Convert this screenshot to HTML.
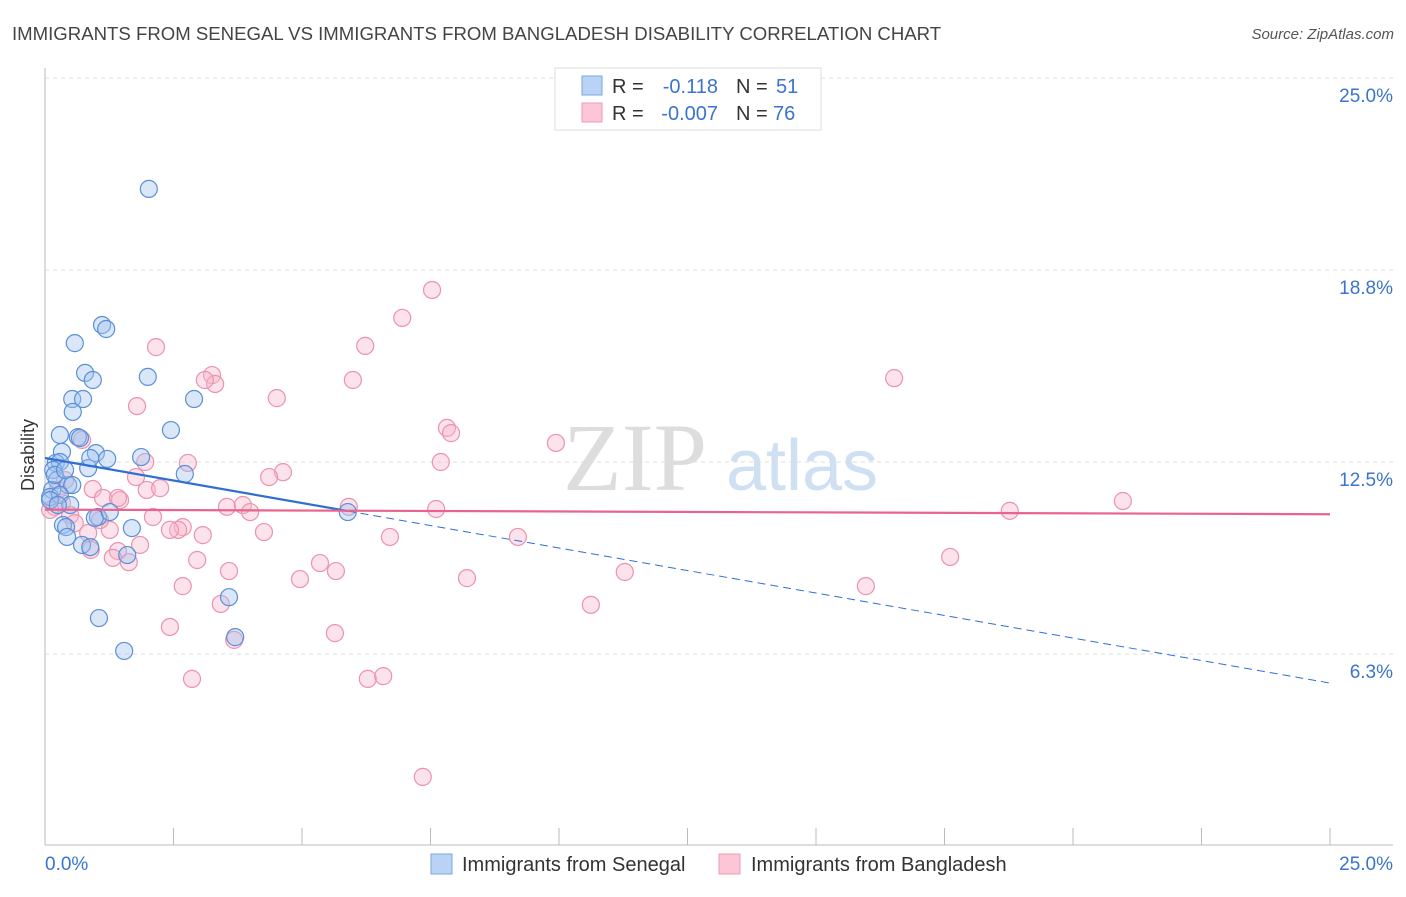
<!DOCTYPE html>
<html><head><meta charset="utf-8"><style>
body{margin:0;background:#fff;font-family:"Liberation Sans",sans-serif;}
</style></head><body>
<svg id="chart" width="1406" height="892" xmlns="http://www.w3.org/2000/svg" font-family="Liberation Sans, sans-serif">
<text x="12" y="40" font-size="18.6" fill="#444">IMMIGRANTS FROM SENEGAL VS IMMIGRANTS FROM BANGLADESH DISABILITY CORRELATION CHART</text>
<text x="1394" y="39" font-size="15" fill="#555" font-style="italic" text-anchor="end">Source: ZipAtlas.com</text>
<g id="watermark">
<text x="635" y="490" font-size="96" font-family="Liberation Serif, serif" fill="#ddd" text-anchor="middle">ZIP</text>
<text x="802" y="490" font-size="72" fill="#cfe0f3" text-anchor="middle">atlas</text>
</g>
<g id="grid"></g>
<g id="axes"></g>
<g id="marks"></g>
<text transform="translate(34,455) rotate(-90)" font-size="18" fill="#333" text-anchor="middle">Disability</text>
<g>
<rect x="555" y="68" width="266" height="62" fill="#fff" stroke="#ddd"/>
<rect x="582" y="76" width="20" height="19" fill="#b9d3f5" stroke="#7aa7e0"/>
<rect x="582" y="103" width="20" height="19" fill="#fcc6d6" stroke="#ee9bb5"/>
<text x="612" y="93" font-size="20" fill="#333">R =</text>
<text x="718" y="93" font-size="20" fill="#3b74cc" text-anchor="end">-0.118</text>
<text x="736" y="93" font-size="20" fill="#333">N =</text>
<text x="776" y="93" font-size="20" fill="#3b74cc">51</text>
<text x="612" y="120" font-size="20" fill="#333">R =</text>
<text x="718" y="120" font-size="20" fill="#3b74cc" text-anchor="end">-0.007</text>
<text x="736" y="120" font-size="20" fill="#333">N =</text>
<text x="773" y="120" font-size="20" fill="#3b74cc">76</text>
</g>
<g>
<rect x="431" y="854" width="21" height="20" fill="#b9d3f5" stroke="#7aa7e0"/>
<text x="462" y="871" font-size="20" fill="#333">Immigrants from Senegal</text>
<rect x="719" y="854" width="21" height="20" fill="#fcc6d6" stroke="#ee9bb5"/>
<text x="751" y="871" font-size="20" fill="#333">Immigrants from Bangladesh</text>
</g>
</svg>
<script>
const yTicks=[25,18.75,12.5,6.25];
const yTickLabels=["25.0%","18.8%","12.5%","6.3%"];
const xTicks=[0,2.5,5,7.5,10,12.5,15,17.5,20,22.5,25];
const senegalX=[2.02,1.11,1.19,0.58,0.78,0.93,2.00,0.53,0.74,2.90,0.54,2.45,0.29,0.64,0.68,0.33,0.99,1.21,1.87,0.21,0.29,0.84,2.72,0.16,0.23,0.45,0.53,0.14,0.10,0.29,0.49,1.03,0.97,1.26,0.35,0.41,1.69,0.43,0.72,0.88,1.60,3.58,1.05,3.70,1.54,5.89,0.10,0.19,0.39,0.25,0.88];
const senegalY=[21.39,16.96,16.83,16.37,15.40,15.17,15.27,14.55,14.55,14.55,14.13,13.54,13.38,13.31,13.28,12.83,12.79,12.60,12.66,12.47,12.50,12.30,12.11,12.24,11.91,11.75,11.75,11.59,11.36,11.43,11.10,10.71,10.68,10.87,10.45,10.38,10.35,10.06,9.80,9.73,9.47,8.10,7.42,6.80,6.35,10.87,11.26,12.08,12.24,11.10,12.63];
const bangX=[7.35,7.53,6.95,6.23,2.16,5.99,16.52,3.25,3.31,3.11,1.79,4.51,7.82,7.90,9.94,7.70,4.63,4.36,0.72,1.95,2.78,1.77,0.93,1.98,2.24,1.13,1.46,1.42,3.54,3.85,3.99,5.91,7.61,20.97,18.77,0.33,0.49,0.19,0.58,2.10,2.68,2.59,2.43,3.07,4.26,6.71,9.20,0.84,0.89,1.42,1.32,1.63,2.96,5.35,5.66,3.58,4.96,8.21,11.28,17.61,2.68,15.97,3.42,10.62,2.43,5.64,3.68,2.86,6.28,6.58,0.25,1.26,0.39,0.10,1.07,1.85];
const bangY=[2.25,18.10,17.19,16.28,16.24,15.17,15.23,15.33,15.04,15.17,14.32,14.58,13.61,13.44,13.12,12.50,12.17,12.01,13.22,12.50,12.47,12.01,11.62,11.59,11.65,11.33,11.26,11.33,11.04,11.10,10.87,11.04,10.97,11.23,10.91,11.17,10.77,11.04,10.51,10.71,10.38,10.29,10.29,10.12,10.22,10.06,10.06,10.19,9.64,9.60,9.38,9.24,9.31,9.21,8.95,8.95,8.69,8.72,8.92,9.41,8.46,8.46,7.88,7.85,7.13,6.93,6.71,5.44,5.44,5.53,11.59,10.29,11.91,10.94,10.61,9.80];
const senegalTrend=[12.63,-0.293,5.89];
const bangTrend=[10.95,-0.006];
const NS="http://www.w3.org/2000/svg";
const X0=45,X1=1330,Y0=846,PPU=30.72;
function xs(v){return X0+(X1-X0)*v/25;}
function ys(v){return Y0-v*PPU;}
function mk(tag,attrs,parent){const e=document.createElementNS(NS,tag);for(const k in attrs)e.setAttribute(k,attrs[k]);parent.appendChild(e);return e;}
const grid=document.getElementById('grid'),axes=document.getElementById('axes'),marks=document.getElementById('marks');
yTicks.forEach((t,i)=>{
 const l=mk('line',{x1:X0,x2:1393,y1:ys(t),y2:ys(t),stroke:'#ddd','stroke-dasharray':'4,4'},grid);
 
 
 const tx=mk('text',{x:1393,y:ys(t)+24,'font-size':19,fill:'#3b74cc','text-anchor':'end'},axes);
 tx.textContent=yTickLabels[i];
 
 
});
const ax=mk('line',{x1:X0,x2:X0,y1:68,y2:845,stroke:'#bbb'},axes);


const bx=mk('line',{x1:X0,x2:1393,y1:845,y2:845,stroke:'#bbb'},axes);


xTicks.forEach(t=>{
 const l=mk('line',{x1:xs(t),x2:xs(t),y1:828,y2:845,stroke:'#bbb'},axes);
 
 
});
const xl0=mk('text',{x:45,y:870,'font-size':19,fill:'#3b74cc'},axes);xl0.textContent='0.0%';


const xl1=mk('text',{x:1393,y:870,'font-size':19,fill:'#3b74cc','text-anchor':'end'},axes);xl1.textContent='25.0%';


function dots(X,Y,fill,stroke,name){
 X.forEach((x,i)=>{const c=mk('circle',{cx:xs(x),cy:ys(Y[i]),r:8.5,fill:fill,stroke:stroke,'stroke-width':1.2},marks);
 
 });
}
dots(bangX,bangY,'rgba(248,182,202,0.4)','#ec92ae','point-bangladesh');
dots(senegalX,senegalY,'rgba(160,196,240,0.4)','#5b8fd8','point-senegal');
const sy=v=>senegalTrend[0]+senegalTrend[1]*v;
const t1=mk('line',{x1:xs(0),y1:ys(sy(0)),x2:xs(senegalTrend[2]),y2:ys(sy(senegalTrend[2])),stroke:'#2f6fd0','stroke-width':2.2},marks);


const t2=mk('line',{x1:xs(senegalTrend[2]),y1:ys(sy(senegalTrend[2])),x2:xs(25),y2:ys(sy(25)),stroke:'#2f6fd0','stroke-width':1,'stroke-dasharray':'8,5'},marks);


const by=v=>bangTrend[0]+bangTrend[1]*v;
const t3=mk('line',{x1:xs(0),y1:ys(by(0)),x2:xs(25),y2:ys(by(25)),stroke:'#e8648e','stroke-width':2.2},marks);


</script>
</body></html>
